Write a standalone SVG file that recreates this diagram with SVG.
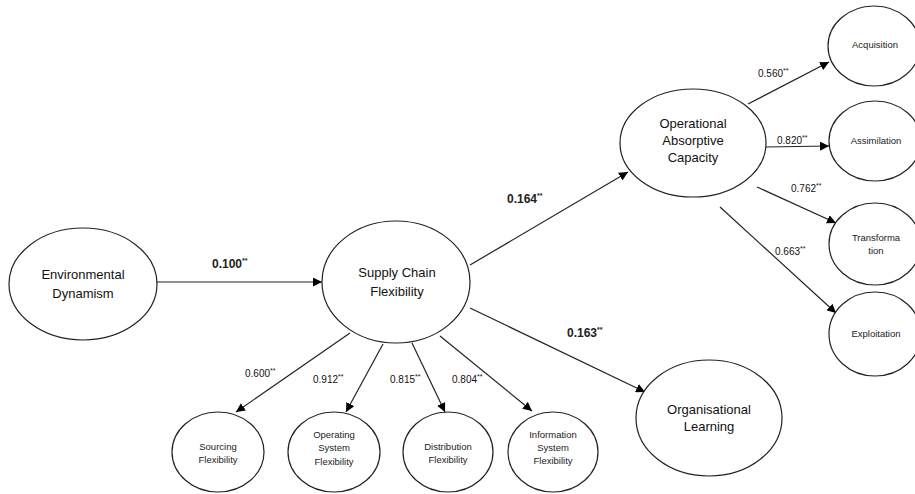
<svg xmlns="http://www.w3.org/2000/svg" width="915" height="494" viewBox="0 0 915 494">
<defs>
<marker id="ah" viewBox="0 0 10 10" refX="10" refY="5" markerWidth="9" markerHeight="9" markerUnits="userSpaceOnUse" orient="auto">
<path d="M0,0 L10,5 L0,10 z" fill="#000"/>
</marker>
<style>
.n{fill:#fff;stroke:#222;stroke-width:1.2}
.c line{stroke:#222;stroke-width:1.2;marker-end:url(#ah)}
.big{font-family:"Liberation Sans",Arial,sans-serif;font-size:13px;fill:#111;text-anchor:middle}
.sm{font-family:"Liberation Sans",Arial,sans-serif;font-size:9.5px;fill:#222;text-anchor:middle}
.co{font-family:"Liberation Sans",Arial,sans-serif;font-size:10px;fill:#111}
.cb{font-family:"Liberation Sans",Arial,sans-serif;font-size:12px;font-weight:bold;fill:#222}
.sup{font-size:7px}
</style>
</defs>
<rect width="915" height="494" fill="#fff"/>
<g class="c" id="connectors">
<line x1="157" y1="282" x2="322" y2="282"/>
<line x1="470" y1="265" x2="628" y2="172"/>
<line x1="470" y1="308" x2="645" y2="392"/>
<line x1="748" y1="104" x2="829" y2="62"/>
<line x1="766" y1="147" x2="829" y2="146"/>
<line x1="757" y1="187" x2="836" y2="223"/>
<line x1="720" y1="207" x2="836" y2="313"/>
<line x1="350" y1="333" x2="236" y2="412"/>
<line x1="383" y1="344" x2="346" y2="412"/>
<line x1="412" y1="343" x2="445" y2="412"/>
<line x1="440" y1="336" x2="532" y2="411"/>
<text class="cb" x="212" y="268">0.100<tspan class="sup" dy="-5">**</tspan></text>
<text class="cb" x="507" y="203">0.164<tspan class="sup" dy="-5">**</tspan></text>
<text class="cb" x="567" y="337">0.163<tspan class="sup" dy="-5">**</tspan></text>
<text class="co" x="758" y="77">0.560<tspan class="sup" dy="-4">**</tspan></text>
<text class="co" x="777" y="144">0.820<tspan class="sup" dy="-4">**</tspan></text>
<text class="co" x="791" y="192">0.762<tspan class="sup" dy="-4">**</tspan></text>
<text class="co" x="775" y="255">0.663<tspan class="sup" dy="-4">**</tspan></text>
<text class="co" x="245" y="377">0.600<tspan class="sup" dy="-4">**</tspan></text>
<text class="co" x="313" y="383">0.912<tspan class="sup" dy="-4">**</tspan></text>
<text class="co" x="390" y="383">0.815<tspan class="sup" dy="-4">**</tspan></text>
<text class="co" x="452" y="383">0.804<tspan class="sup" dy="-4">**</tspan></text>
</g>
<g id="env-dyn"><ellipse class="n" cx="83" cy="284" rx="74" ry="56"/><text class="big" x="83" y="279">Environmental</text><text class="big" x="83" y="298">Dynamism</text></g>
<g id="scf"><ellipse class="n" cx="396" cy="282" rx="74" ry="61"/><text class="big" x="397" y="277">Supply Chain</text><text class="big" x="397" y="296">Flexibility</text></g>
<g id="oac"><ellipse class="n" cx="693" cy="143" rx="73" ry="54"/><text class="big" x="693" y="128">Operational</text><text class="big" x="693" y="145">Absorptive</text><text class="big" x="693" y="162">Capacity</text></g>
<g id="ol"><ellipse class="n" cx="709" cy="418" rx="73" ry="58"/><text class="big" x="709" y="414">Organisational</text><text class="big" x="709" y="431">Learning</text></g>
<g id="acq"><ellipse class="n" cx="874" cy="46" rx="46" ry="40"/><text class="sm" x="875" y="48">Acquisition</text></g>
<g id="ass"><ellipse class="n" cx="875" cy="141" rx="46" ry="40"/><text class="sm" x="876" y="144">Assimilation</text></g>
<g id="tra"><ellipse class="n" cx="875" cy="244" rx="46" ry="41"/><text class="sm" x="876" y="241">Transforma</text><text class="sm" x="876" y="254">tion</text></g>
<g id="exp"><ellipse class="n" cx="875" cy="334" rx="46" ry="42"/><text class="sm" x="876" y="337">Exploitation</text></g>
<g id="src"><ellipse class="n" cx="218" cy="452" rx="46" ry="40"/><text class="sm" x="218" y="450">Sourcing</text><text class="sm" x="218" y="463">Flexibility</text></g>
<g id="ops"><ellipse class="n" cx="334" cy="452" rx="46" ry="40"/><text class="sm" x="334" y="438">Operating</text><text class="sm" x="334" y="451">System</text><text class="sm" x="334" y="465">Flexibility</text></g>
<g id="dis"><ellipse class="n" cx="448" cy="452" rx="45" ry="40"/><text class="sm" x="448" y="450">Distribution</text><text class="sm" x="448" y="463">Flexibility</text></g>
<g id="ins"><ellipse class="n" cx="553" cy="452" rx="45" ry="40"/><text class="sm" x="553" y="438">Information</text><text class="sm" x="553" y="451">System</text><text class="sm" x="553" y="464">Flexibility</text></g>
</svg>
